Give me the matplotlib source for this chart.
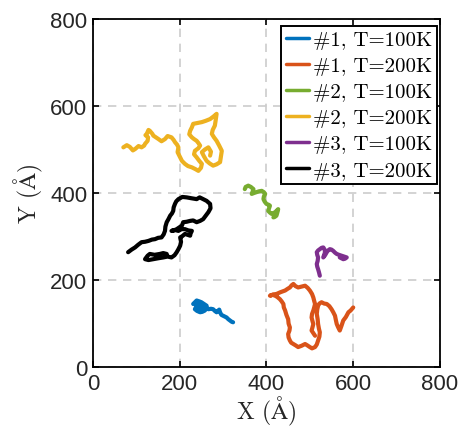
import matplotlib
matplotlib.use("Agg")
import matplotlib.pyplot as plt

plt.rcParams['mathtext.fontset'] = 'cm'

# Trajectory data (Å)
x_1_100 = [231, 236, 239, 245, 250, 256, 262, 261, 258, 252, 247, 240, 235, 238, 243, 249, 254, 250, 244, 240,
           246, 253, 259, 266, 272, 277, 281, 285, 288, 291, 293, 296, 302, 308, 312, 316, 320, 323]
y_1_100 = [145, 150, 153, 151, 149, 145, 141, 135, 130, 127, 126, 129, 133, 139, 141, 139, 137, 132, 134, 143,
           147, 143, 138, 133, 134, 133, 129, 126, 129, 132, 126, 120, 117, 114, 110, 107, 104, 103]

x_1_200 = [600, 594, 589, 583, 577, 573, 569, 565, 562, 560, 558, 554, 550, 545, 539, 533, 527, 522, 519, 517,
           516, 518, 519, 521, 523, 522, 519, 516, 512, 505, 500, 494, 489, 481, 473, 467, 462, 457, 454, 451,
           450, 453, 454, 451, 450, 446, 443, 440, 439, 435, 431, 425, 420, 414, 408, 416, 423, 432, 443, 449,
           454, 458, 462, 467, 473, 481, 489, 495, 500, 505, 508, 510, 512, 510, 508, 505, 504, 506, 508, 506,
           504, 508, 512]
y_1_200 = [137, 130, 126, 115, 107, 95, 84, 92, 99, 108, 118, 126, 133, 140, 145, 146, 149, 146, 141, 132,
           122, 110, 99, 88, 80, 70, 61, 52, 46, 43, 46, 50, 53, 49, 46, 50, 53, 56, 61, 68,
           76, 84, 91, 100, 110, 120, 130, 137, 145, 151, 156, 161, 164, 166, 164, 167, 168, 172, 176, 180,
           183, 188, 191, 186, 183, 185, 187, 182, 176, 168, 160, 152, 145, 137, 130, 122, 114, 106, 99, 91,
           84, 78, 72]

x_2_100 = [350, 352, 358, 364, 370, 368, 366, 371, 377, 383, 389, 394, 397, 394, 393, 396, 400, 405, 408, 406,
           404, 408, 412, 416, 420, 424, 427, 425, 423, 419, 416]
y_2_100 = [409, 414, 417, 414, 409, 403, 398, 400, 402, 404, 405, 402, 398, 392, 386, 380, 375, 373, 371, 365,
           359, 355, 352, 354, 356, 360, 363, 355, 348, 345, 344]

x_2_200 = [70, 78, 85, 92, 97, 105, 112, 118, 120, 126, 127, 121, 124, 128, 131, 137, 139, 145, 151, 158,
           166, 172, 181, 186, 189, 194, 197, 195, 201, 205, 212, 219, 228, 236, 243, 249, 251, 245, 239, 233,
           235, 243, 247, 243, 239, 233, 228, 222, 224, 228, 231, 241, 251, 260, 270, 278, 285, 283, 281, 276,
           274, 279, 285, 291, 297, 295, 293, 285, 277, 269, 262, 256, 251, 258, 266, 272, 270]
y_2_200 = [505, 510, 506, 498, 501, 508, 505, 509, 513, 520, 528, 533, 536, 545, 543, 536, 532, 528, 524, 519,
           524, 531, 528, 522, 517, 511, 505, 494, 482, 474, 467, 462, 459, 455, 451, 458, 467, 474, 482, 489,
           497, 503, 509, 515, 520, 524, 528, 535, 543, 551, 559, 561, 563, 566, 570, 576, 582, 568, 555, 545,
           536, 528, 520, 509, 497, 484, 471, 466, 463, 468, 474, 484, 494, 500, 505, 495, 486]

x_3_100 = [523, 521, 519, 517, 516, 518, 519, 517, 516, 519, 523, 527, 531, 534, 535, 533, 531, 535, 539, 542,
           546, 550, 554, 558, 562, 567, 573, 579, 585, 581, 577, 573, 569]
y_3_100 = [210, 218, 225, 231, 237, 244, 252, 258, 264, 268, 271, 274, 275, 270, 264, 258, 252, 257, 264, 268,
           271, 270, 267, 263, 260, 258, 256, 254, 252, 249, 248, 250, 252]

x_3_200 = [81, 89, 97, 104, 112, 120, 128, 136, 143, 150, 158, 163, 166, 167, 170, 174, 178, 182, 185, 186,
           189, 192, 197, 206, 216, 227, 239, 246, 254, 262, 270, 271, 266, 260, 254, 247, 239, 231, 224, 216,
           208, 205, 199, 193, 186, 181, 189, 197, 204, 212, 220, 228, 225, 224, 218, 212, 206, 201, 203, 201,
           197, 193, 188, 181, 172, 162, 150, 139, 128, 120, 126, 131, 142, 154, 162, 170]
y_3_200 = [264, 270, 275, 281, 287, 288, 290, 293, 294, 297, 298, 305, 313, 323, 333, 340, 348, 353, 359, 367,
           375, 381, 386, 391, 390, 388, 386, 390, 386, 382, 375, 365, 356, 348, 340, 336, 333, 337, 336, 334,
           333, 325, 321, 317, 314, 313, 315, 313, 317, 317, 314, 313, 307, 302, 304, 306, 301, 298, 288, 279,
           271, 264, 257, 252, 254, 252, 250, 248, 246, 248, 256, 260, 258, 260, 262, 260]

labels = ['#1, T=100K', '#1, T=200K', '#2, T=100K', '#2, T=200K', '#3, T=100K', '#3, T=200K']
colors = ['#0072BD', '#D95319', '#77AC30', '#EDB120', '#7E2F8E', '#000000']
xs = [x_1_100, x_1_200, x_2_100, x_2_200, x_3_100, x_3_200]
ys = [y_1_100, y_1_200, y_2_100, y_2_200, y_3_100, y_3_200]

ticks = [0, 200, 400, 600, 800]

fig = plt.figure(figsize=(4.64, 4.31), dpi=100)
ax = fig.add_axes([0.2004, 0.146, 0.7478, 0.8076])

for x, y, c, lab in zip(xs, ys, colors, labels):
    ax.plot(x, y, color=c, lw=3.0, label=lab, solid_joinstyle='round', solid_capstyle='round')

ax.set_xlim(0, 800)
ax.set_ylim(0, 800)
ax.set_xticks(ticks)
ax.set_yticks(ticks)
ax.tick_params(direction='in', length=4, width=1.2, top=True, right=True,
               labelsize=16, pad=4, labelcolor='#262626')
for lab in ax.get_xticklabels() + ax.get_yticklabels():
    lab.set_fontfamily('Liberation Sans')
for s in ax.spines.values():
    s.set_linewidth(1.3)
ax.grid(True, linestyle=(0, (5, 4)), color='#cccccc', linewidth=1.2)
ax.set_axisbelow(True)

ax.set_xlabel(r'X ($\mathrm{\AA}$)', fontsize=17, fontfamily='cmr10', labelpad=0, color='#262626')
ax.set_ylabel(r'Y ($\mathrm{\AA}$)', fontsize=17, fontfamily='cmr10', labelpad=4, color='#262626')

leg = ax.legend(loc='upper right', bbox_to_anchor=(437 / 464, 1 - 27 / 431),
                bbox_transform=fig.transFigure, borderaxespad=0,
                prop={'family': 'cmr10', 'size': 15},
                frameon=True, fancybox=False, edgecolor='black', framealpha=1,
                handlelength=1.1, handletextpad=0.2, labelspacing=0.36,
                borderpad=0.22)
leg.get_frame().set_linewidth(1.4)
for line in leg.get_lines():
    line.set_linewidth(2.5)

fig.savefig('out.png', dpi=100)
